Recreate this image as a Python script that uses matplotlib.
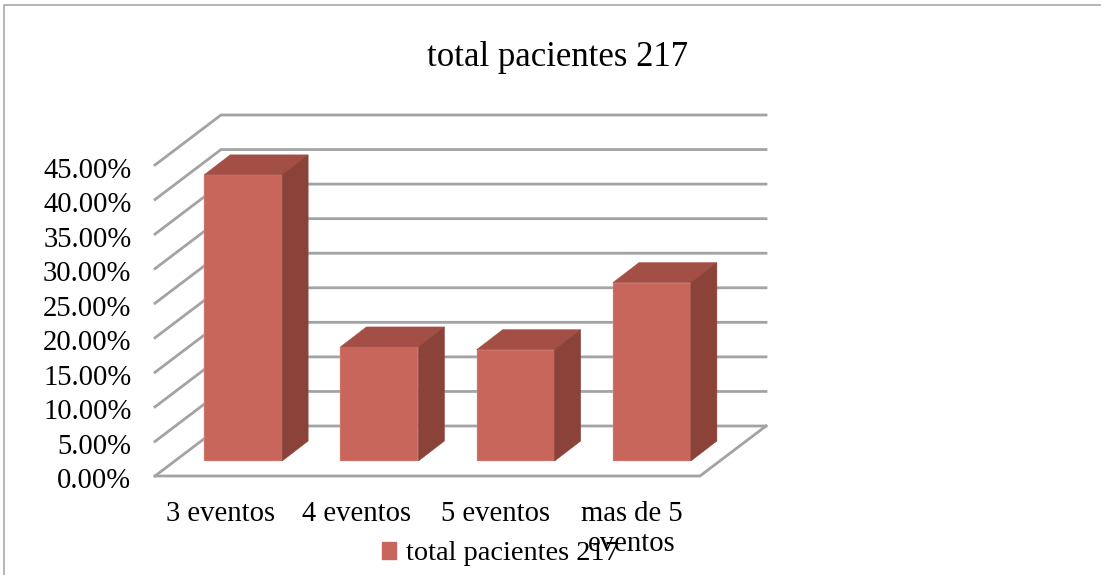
import matplotlib
matplotlib.use("Agg")
import matplotlib.pyplot as plt
from matplotlib.patches import Patch
from matplotlib.transforms import ScaledTranslation

categories = ["3 eventos", "4 eventos", "5 eventos", "mas de 5\neventos"]
values = [41.4, 16.5, 16.1, 25.8]
y_ticks = [0, 5, 10, 15, 20, 25, 30, 35, 40, 45]
y_labels = ["0.00%", "5.00%", "10.00%", "15.00%", "20.00%", "25.00%",
            "30.00%", "35.00%", "40.00%", "45.00%"]
series_name = "total pacientes 217"

FRONT = "#C9665C"
TOP = "#A44F46"
SIDE = "#8A4239"
GRID = "#A3A3A3"

plt.rcParams['font.family'] = ['Liberation Serif', 'DejaVu Serif']

fig = plt.figure(figsize=(11.01, 5.75), dpi=100)
ax = fig.add_axes([155 / 1101, 99 / 575, 545 / 1101, 311 / 575])
ax.set_xlim(-0.5, 3.5)
ax.set_ylim(0, 45)

# px per data unit, for the fake 3d depth
px_x = 545 / 4
px_y = 311 / 45
wall_dx = 66 / px_x
wall_dy = 50 / px_y
bar_dx = 26 / px_x
bar_dy = 20 / px_y
bar_x0 = 20 / px_x
bar_y0 = 15 / px_y
bar_w = 78 / px_x

#Gridlines go along the side wall and then the back wall
x0, x1 = ax.get_xlim()
for t in y_ticks:
    ax.plot([x0, x0 + wall_dx, x1 + wall_dx], [t, t + wall_dy, t + wall_dy],
            color=GRID, lw=2, clip_on=False, zorder=1, solid_joinstyle="miter")
#Floor
ax.plot([x0, x1, x1 + wall_dx], [0, 0, wall_dy], color=GRID, lw=2,
        clip_on=False, zorder=1, solid_joinstyle="miter")

xpos = range(len(categories))
ax.bar([x + bar_x0 for x in xpos], values, width=bar_w, bottom=bar_y0,
       color=FRONT, edgecolor="#D9A9A3", linewidth=0.3, zorder=3, clip_on=False)
for x, v in zip(xpos, values):
    left = x + bar_x0 - bar_w / 2
    right = left + bar_w
    top = bar_y0 + v
    ax.fill([left, right, right + bar_dx, left + bar_dx],
            [top, top, top + bar_dy, top + bar_dy],
            color=TOP, lw=0.4, zorder=3, clip_on=False)
    ax.fill([right, right + bar_dx, right + bar_dx, right],
            [bar_y0, bar_y0 + bar_dy, top + bar_dy, top],
            color=SIDE, lw=0.4, zorder=3, clip_on=False)

for s in ax.spines.values():
    s.set_visible(False)
ax.patch.set_visible(False)

ax.set_yticks(y_ticks)
ax.set_yticklabels(y_labels)
ax.set_xticks(list(xpos))
ax.set_xticklabels(categories, linespacing=1.2)
ax.tick_params(axis="both", length=0, labelsize=20.6, labelcolor="black")
ax.tick_params(axis="x", pad=18)
ax.tick_params(axis="y", pad=17)

#Nudge the labels by a few pixels, the original is not quite centred on the ticks
for lab in ax.get_yticklabels():
    lab.set_transform(lab.get_transform() + ScaledTranslation(0, -2.5 / 100, fig.dpi_scale_trans))
for lab in ax.get_xticklabels()[:2]:
    lab.set_transform(lab.get_transform() + ScaledTranslation(-3 / 100, 0, fig.dpi_scale_trans))

fig.text(558 / 1101, 1 - 58 / 575, series_name, ha="center", va="center", fontsize=25)

ax.legend(handles=[Patch(color=FRONT, label=series_name)], loc="center",
          bbox_to_anchor=(500 / 1101, 1 - 554 / 575), bbox_transform=fig.transFigure,
          frameon=False, fontsize=20.4, handlelength=0.5, handleheight=0.5,
          handletextpad=0.35, borderpad=0, borderaxespad=0)

#Thin border of the chart area, only top and left show in the crop
fig.add_artist(plt.Line2D([4 / 1101, 4 / 1101, 1], [0, 1 - 5 / 575, 1 - 5 / 575],
                          color="#A8A8A8", lw=1.2))

fig.savefig("out.png", dpi=100)
